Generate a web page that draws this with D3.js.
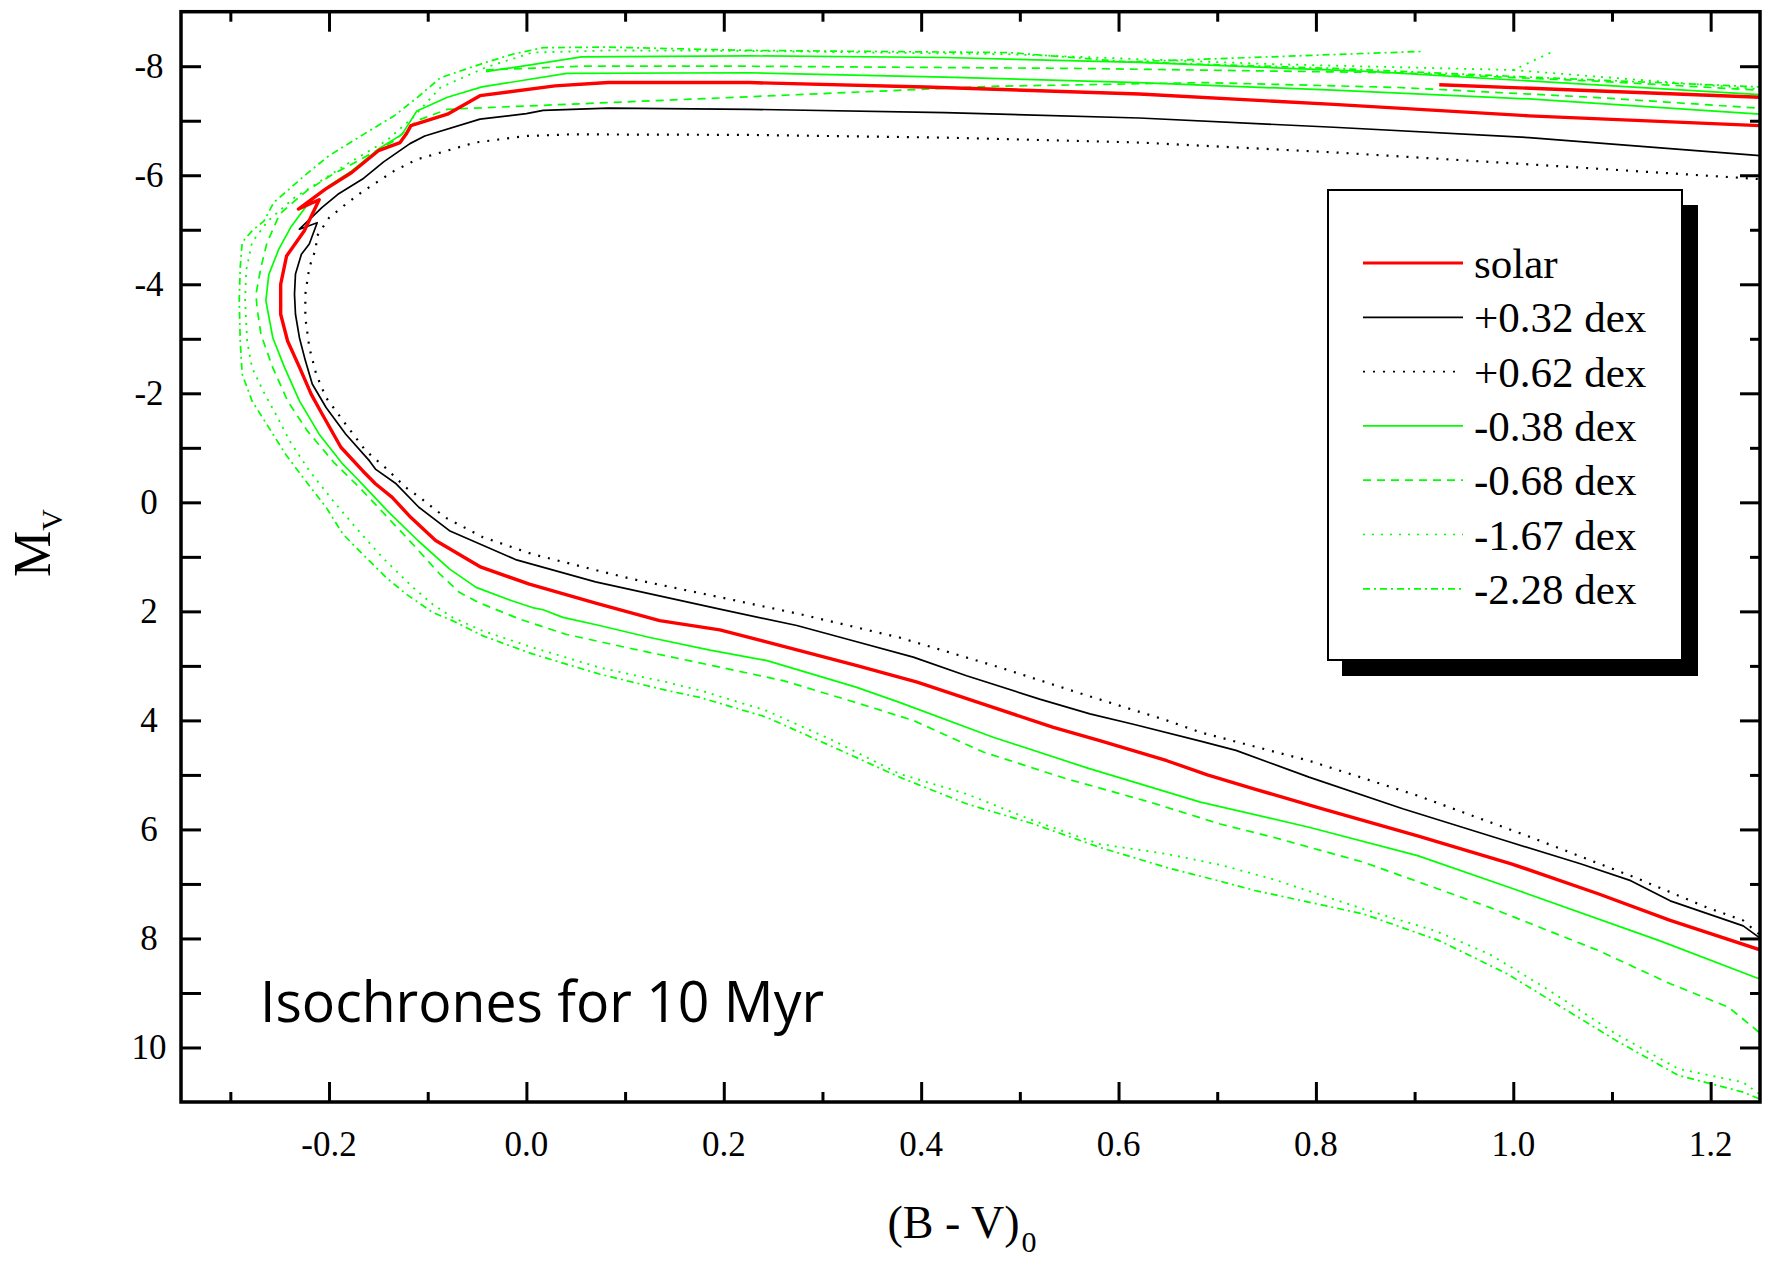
<!DOCTYPE html>
<html>
<head>
<meta charset="utf-8">
<script src="https://cdn.jsdelivr.net/npm/d3@7"></script>
<style>
  html, body { margin: 0; padding: 0; background: #fff; }
  svg { display: block; }
</style>
</head>
<body>
<svg id="chart" width="1767" height="1261"></svg>
<script>
// ---------------- DATA (B-V, Mv) ----------------
const xMajorTicks = [-0.2, 0.0, 0.2, 0.4, 0.6, 0.8, 1.0, 1.2];
const xMinorTicks = [-0.3, -0.1, 0.1, 0.3, 0.5, 0.7, 0.9, 1.1];
const yMajorTicks = [-8, -6, -4, -2, 0, 2, 4, 6, 8, 10];
const yMinorTicks = [-7, -5, -3, -1, 1, 3, 5, 7, 9];

const legendLabels = ["solar", "+0.32 dex", "+0.62 dex", "-0.38 dex", "-0.68 dex", "-1.67 dex", "-2.28 dex"];

// solar
const solarMain = [
  [1.25, 8.21], [1.159, 7.67], [1.086, 7.18], [0.998, 6.63], [0.903, 6.12], [0.804, 5.61], [0.738, 5.26],
  [0.690, 5.00], [0.649, 4.74], [0.581, 4.37], [0.534, 4.13], [0.463, 3.70], [0.396, 3.30], [0.334, 2.99],
  [0.277, 2.72], [0.196, 2.34], [0.135, 2.17], [0.072, 1.86], [0.003, 1.50], [-0.046, 1.19], [-0.092, 0.70],
  [-0.117, 0.28], [-0.136, -0.09], [-0.153, -0.34], [-0.166, -0.58], [-0.188, -1.01], [-0.207, -1.62],
  [-0.218, -1.98], [-0.230, -2.48], [-0.242, -2.96], [-0.249, -3.45], [-0.249, -4.00], [-0.243, -4.52],
  [-0.225, -4.98], [-0.210, -5.55], [-0.231, -5.38], [-0.204, -5.74], [-0.177, -6.05], [-0.150, -6.45],
  [-0.128, -6.60], [-0.122, -6.75], [-0.117, -6.91], [-0.080, -7.12], [-0.047, -7.46], [0.029, -7.64],
  [0.083, -7.70], [0.226, -7.70], [0.404, -7.62], [0.621, -7.49], [0.818, -7.30], [1.016, -7.09], [1.25, -6.91]
];
const solarLoop = [[0.925, -7.66], [1.081, -7.55], [1.25, -7.43]];

// +0.32 dex
const p032Main = [
  [1.249, 7.98], [1.233, 7.77], [1.159, 7.31], [1.119, 6.94], [1.068, 6.63], [0.998, 6.24], [0.888, 5.62],
  [0.793, 5.04], [0.719, 4.55], [0.683, 4.38], [0.615, 4.07], [0.571, 3.88], [0.520, 3.61], [0.446, 3.18],
  [0.392, 2.84], [0.331, 2.54], [0.274, 2.26], [0.196, 1.96], [0.070, 1.46], [-0.011, 1.05], [-0.078, 0.52],
  [-0.109, 0.09], [-0.132, -0.34], [-0.153, -0.61], [-0.159, -0.76], [-0.183, -1.25], [-0.203, -1.74],
  [-0.217, -2.17], [-0.224, -2.60], [-0.230, -3.02], [-0.234, -3.45], [-0.235, -3.82], [-0.234, -4.19],
  [-0.228, -4.55], [-0.220, -4.74], [-0.212, -5.13], [-0.230, -5.01], [-0.207, -5.41], [-0.191, -5.65],
  [-0.166, -5.93], [-0.145, -6.24], [-0.118, -6.58], [-0.103, -6.72], [-0.047, -7.03], [0.000, -7.13],
  [0.017, -7.19], [0.083, -7.23], [0.226, -7.21], [0.424, -7.15], [0.621, -7.05], [0.818, -6.88],
  [1.016, -6.69], [1.25, -6.36]
];

// +0.62 dex
const p062Main = [
  [1.249, 7.92], [1.233, 7.67], [1.196, 7.43], [1.123, 6.88], [1.013, 6.11], [0.903, 5.38], [0.793, 4.74],
  [0.683, 4.22], [0.649, 4.00], [0.564, 3.52], [0.480, 3.03], [0.378, 2.48], [0.277, 2.05], [0.196, 1.74],
  [0.108, 1.41], [0.074, 1.26], [0.006, 0.95], [-0.044, 0.64], [-0.082, 0.28], [-0.108, -0.09],
  [-0.122, -0.27], [-0.142, -0.62], [-0.163, -0.95], [-0.183, -1.43], [-0.203, -1.92], [-0.213, -2.35],
  [-0.220, -2.84], [-0.224, -3.39], [-0.224, -3.82], [-0.220, -4.31], [-0.213, -4.67], [-0.213, -4.86],
  [-0.200, -5.22], [-0.183, -5.47], [-0.166, -5.70], [-0.134, -6.08], [-0.111, -6.29], [-0.052, -6.60],
  [0.000, -6.72], [0.045, -6.75], [0.226, -6.74], [0.424, -6.69], [0.621, -6.60], [0.818, -6.42],
  [1.016, -6.20], [1.25, -5.93]
];

// -0.38 dex
const m038Main = [
  [1.249, 8.74], [1.148, 8.04], [1.005, 7.12], [0.903, 6.48], [0.793, 5.96], [0.683, 5.50], [0.568, 4.87],
  [0.473, 4.31], [0.378, 3.67], [0.334, 3.39], [0.243, 2.90], [0.186, 2.71], [0.125, 2.48], [0.074, 2.26],
  [0.037, 2.11], [0.017, 1.97], [0.006, 1.93], [-0.014, 1.81], [-0.051, 1.56], [-0.078, 1.22], [-0.110, 0.70],
  [-0.139, 0.19], [-0.163, -0.27], [-0.173, -0.46], [-0.186, -0.70], [-0.210, -1.25], [-0.230, -1.86],
  [-0.245, -2.47], [-0.257, -3.02], [-0.264, -3.70], [-0.261, -4.18], [-0.251, -4.64], [-0.239, -5.04],
  [-0.219, -5.53], [-0.200, -5.81], [-0.177, -6.08], [-0.150, -6.48], [-0.126, -6.75], [-0.111, -7.18],
  [-0.080, -7.43], [-0.045, -7.62], [0.041, -7.87], [0.226, -7.88], [0.424, -7.80], [0.621, -7.70],
  [0.818, -7.56], [1.016, -7.40], [1.25, -7.12]
];
const m038Loop = [
  [-0.041, -7.90], [0.056, -8.17], [0.226, -8.19], [0.424, -8.16], [0.621, -8.07], [0.858, -7.90],
  [1.016, -7.73], [1.25, -7.48]
];

// -0.68 dex
const m068Main = [
  [1.249, 9.72], [1.218, 9.26], [1.159, 8.83], [1.086, 8.22], [0.976, 7.43], [0.848, 6.60], [0.756, 6.14],
  [0.703, 5.90], [0.632, 5.50], [0.547, 5.07], [0.463, 4.58], [0.392, 4.00], [0.328, 3.64], [0.260, 3.27],
  [0.190, 3.00], [0.108, 2.69], [0.040, 2.42], [-0.007, 2.14], [-0.048, 1.84], [-0.068, 1.65], [-0.088, 1.31],
  [-0.115, 0.77], [-0.142, 0.25], [-0.169, -0.27], [-0.195, -0.73], [-0.222, -1.31], [-0.242, -1.86],
  [-0.257, -2.47], [-0.269, -3.08], [-0.273, -3.57], [-0.274, -3.82], [-0.269, -4.31], [-0.263, -4.75],
  [-0.250, -5.29], [-0.223, -5.71], [-0.196, -6.02], [-0.165, -6.32], [-0.134, -6.63], [-0.111, -7.00],
  [-0.080, -7.21], [0.226, -7.44], [0.470, -7.63], [0.687, -7.70], [0.884, -7.61], [1.081, -7.43], [1.25, -7.23]
];
const m068Loop = [
  [-0.041, -7.93], [0.056, -8.00], [0.226, -8.00], [0.555, -7.96], [0.884, -7.88], [1.081, -7.73], [1.25, -7.56]
];

// -1.67 dex
const m167Main = [
  [1.249, 10.85], [1.233, 10.64], [1.167, 10.39], [1.104, 9.75], [1.031, 8.89], [0.976, 8.29], [0.921, 7.86],
  [0.848, 7.46], [0.756, 6.91], [0.703, 6.65], [0.649, 6.45], [0.581, 6.27], [0.514, 5.84], [0.446, 5.35],
  [0.378, 4.98], [0.311, 4.37], [0.243, 3.82], [0.176, 3.45], [0.142, 3.30], [0.074, 3.03], [0.006, 2.66],
  [-0.044, 2.36], [-0.075, 2.11], [-0.095, 1.87], [-0.115, 1.56], [-0.146, 1.01], [-0.173, 0.46],
  [-0.196, -0.03], [-0.220, -0.58], [-0.240, -1.13], [-0.254, -1.62], [-0.267, -2.05], [-0.278, -2.47],
  [-0.283, -2.96], [-0.285, -3.70], [-0.284, -4.25], [-0.278, -4.77], [-0.262, -5.16], [-0.235, -5.59],
  [-0.208, -5.90], [-0.177, -6.26], [-0.142, -6.63], [-0.115, -7.06], [-0.087, -7.61], [-0.041, -7.98],
  [0.006, -8.25], [0.083, -8.29], [0.226, -8.28], [0.489, -8.22], [0.752, -8.04], [1.000, -7.93], [1.039, -8.26]
];
const m167Loop = [[1.000, -7.93], [1.120, -7.76], [1.25, -7.58]];

// -2.28 dex
const m228Main = [
  [1.249, 10.94], [1.233, 10.82], [1.167, 10.51], [1.104, 9.87], [1.049, 9.26], [0.994, 8.65], [0.925, 8.04],
  [0.848, 7.55], [0.738, 7.12], [0.703, 6.95], [0.649, 6.70], [0.581, 6.33], [0.514, 5.90], [0.446, 5.53],
  [0.378, 5.04], [0.311, 4.49], [0.243, 3.94], [0.176, 3.58], [0.142, 3.45], [0.074, 3.15], [0.006, 2.78],
  [-0.044, 2.45], [-0.075, 2.17], [-0.095, 2.02], [-0.122, 1.68], [-0.142, 1.38], [-0.166, 0.95],
  [-0.186, 0.58], [-0.203, 0.09], [-0.224, -0.40], [-0.244, -0.88], [-0.261, -1.37], [-0.278, -1.86],
  [-0.288, -2.35], [-0.290, -2.96], [-0.291, -3.70], [-0.290, -4.31], [-0.288, -4.77], [-0.278, -4.98],
  [-0.266, -5.16], [-0.256, -5.50], [-0.223, -6.02], [-0.200, -6.36], [-0.165, -6.75], [-0.134, -7.09],
  [-0.111, -7.42], [-0.087, -7.79], [-0.041, -8.07], [-0.014, -8.22], [0.017, -8.34], [0.083, -8.35],
  [0.226, -8.29], [0.489, -8.25], [0.610, -8.08], [0.906, -8.27]
];
const m228Loop = [[0.610, -8.08], [0.818, -7.96], [1.016, -7.80], [1.25, -7.62]];

// ---------------- DRAWING ----------------
const svg = d3.select("#chart");
const pL = 181, pR = 1760, pT = 11.7, pB = 1102;

const x = d3.scaleLinear().domain([-0.35, 1.25]).range([pL, pR]);
const y = d3.scaleLinear().domain([-9, 11]).range([pT, pB]);

const GREEN = "#00ff00";
const styles = [
  { color: "#ff0000", width: 3.4, dash: null },
  { color: "#000000", width: 1.7, dash: null },
  { color: "#000000", width: 2.2, dash: "2,8", legendDash: "2,8" },
  { color: GREEN, width: 1.7, dash: null },
  { color: GREEN, width: 1.7, dash: "8,6", legendDash: "8,6" },
  { color: GREEN, width: 1.8, dash: "2,6", legendDash: "2,7" },
  { color: GREEN, width: 1.7, dash: "7,4,2,4", legendDash: "7,4,2,4" }
];

const seriesSegments = [
  [solarMain, solarLoop],
  [p032Main],
  [p062Main],
  [m038Main, m038Loop],
  [m068Main, m068Loop],
  [m167Main, m167Loop],
  [m228Main, m228Loop]
];

svg.append("defs").append("clipPath").attr("id", "plotclip")
  .append("rect").attr("x", pL).attr("y", pT).attr("width", pR - pL).attr("height", pB - pT);

const line = d3.line().x(d => x(d[0])).y(d => y(d[1]));
const plot = svg.append("g").attr("clip-path", "url(#plotclip)");

const drawOrder = [6, 5, 4, 3, 2, 1, 0];
drawOrder.forEach(i => {
  const st = styles[i];
  seriesSegments[i].forEach(seg => {
    plot.append("path")
      .datum(seg)
      .attr("d", line)
      .attr("fill", "none")
      .attr("stroke", st.color)
      .attr("stroke-width", st.width)
      .attr("stroke-linejoin", "round")
      .attr("stroke-dasharray", st.dash);
  });
});

// axes (ticks inward)
function styleAxis(g) {
  g.select(".domain").remove();
  g.selectAll(".tick line").attr("stroke", "#000").attr("stroke-width", 3);
  g.selectAll(".tick text").remove();
}
svg.append("g").attr("transform", `translate(0,${pB})`)
  .call(d3.axisBottom(x).tickValues(xMajorTicks).tickSize(-20).tickFormat("")).call(styleAxis);
svg.append("g").attr("transform", `translate(0,${pB})`)
  .call(d3.axisBottom(x).tickValues(xMinorTicks).tickSize(-10).tickFormat("")).call(styleAxis);
svg.append("g").attr("transform", `translate(0,${pT})`)
  .call(d3.axisTop(x).tickValues(xMajorTicks).tickSize(-20).tickFormat("")).call(styleAxis);
svg.append("g").attr("transform", `translate(0,${pT})`)
  .call(d3.axisTop(x).tickValues(xMinorTicks).tickSize(-10).tickFormat("")).call(styleAxis);
svg.append("g").attr("transform", `translate(${pL},0)`)
  .call(d3.axisLeft(y).tickValues(yMajorTicks).tickSize(-20).tickFormat("")).call(styleAxis);
svg.append("g").attr("transform", `translate(${pL},0)`)
  .call(d3.axisLeft(y).tickValues(yMinorTicks).tickSize(-20).tickFormat("")).call(styleAxis);
svg.append("g").attr("transform", `translate(${pR},0)`)
  .call(d3.axisRight(y).tickValues(yMajorTicks).tickSize(-20).tickFormat("")).call(styleAxis);
svg.append("g").attr("transform", `translate(${pR},0)`)
  .call(d3.axisRight(y).tickValues(yMinorTicks).tickSize(-10).tickFormat("")).call(styleAxis);

// frame
svg.append("rect").attr("x", pL).attr("y", pT).attr("width", pR - pL).attr("height", pB - pT)
  .attr("fill", "none").attr("stroke", "#000").attr("stroke-width", 3.5);

// tick labels (plain hyphen-minus as in the original)
const serif = "'Liberation Serif', 'Times New Roman', serif";
const fmtX = v => d3.format(".1f")(v).replace("\u2212", "-");
svg.append("g").selectAll("text").data(xMajorTicks).join("text")
  .attr("x", d => x(d)).attr("y", 1156)
  .attr("text-anchor", "middle").attr("font-family", serif).attr("font-size", 35)
  .text(d => fmtX(d));
svg.append("g").selectAll("text").data(yMajorTicks).join("text")
  .attr("x", 149).attr("y", d => y(d) + 12)
  .attr("text-anchor", "middle").attr("font-family", serif).attr("font-size", 35)
  .text(d => String(d));

// axis titles
const xt = svg.append("text").attr("x", 962).attr("y", 1238)
  .attr("text-anchor", "middle").attr("font-family", serif).attr("font-size", 46);
xt.append("tspan").text("(B - V)");
xt.append("tspan").attr("font-size", 30).attr("dy", 14).attr("dx", 2).text("0");

const yt = svg.append("text").attr("transform", "translate(50,543) rotate(-90)")
  .attr("text-anchor", "middle").attr("font-family", serif).attr("font-size", 52);
yt.append("tspan").text("M");
yt.append("tspan").attr("font-size", 30).attr("dy", 12).text("V");

// annotation
svg.append("text").attr("x", 260).attr("y", 1022)
  .attr("font-family", "'Open Sans', 'Noto Sans', sans-serif").attr("font-size", 56)
  .attr("textLength", 564).attr("lengthAdjust", "spacingAndGlyphs")
  .text("Isochrones for 10 Myr");

// legend
const lg = svg.append("g");
const boxX = 1328, boxY = 190, boxW = 354, boxH = 470;
lg.append("rect").attr("x", boxX + 14).attr("y", boxY + 15).attr("width", boxW + 2).attr("height", boxH + 1).attr("fill", "#000");
lg.append("rect").attr("x", boxX).attr("y", boxY).attr("width", boxW).attr("height", boxH)
  .attr("fill", "#fff").attr("stroke", "#000").attr("stroke-width", 2);
const rowY = i => 263 + i * 54.3;
legendLabels.forEach((lab, i) => {
  const st = styles[i];
  lg.append("line").attr("x1", 1363).attr("x2", 1463).attr("y1", rowY(i)).attr("y2", rowY(i))
    .attr("stroke", st.color).attr("stroke-width", i === 0 ? 3.2 : 1.7)
    .attr("stroke-dasharray", st.legendDash || null);
  lg.append("text").attr("x", 1474).attr("y", rowY(i) + 15)
    .attr("font-family", serif).attr("font-size", 43).text(lab);
});
</script>
</body>
</html>
